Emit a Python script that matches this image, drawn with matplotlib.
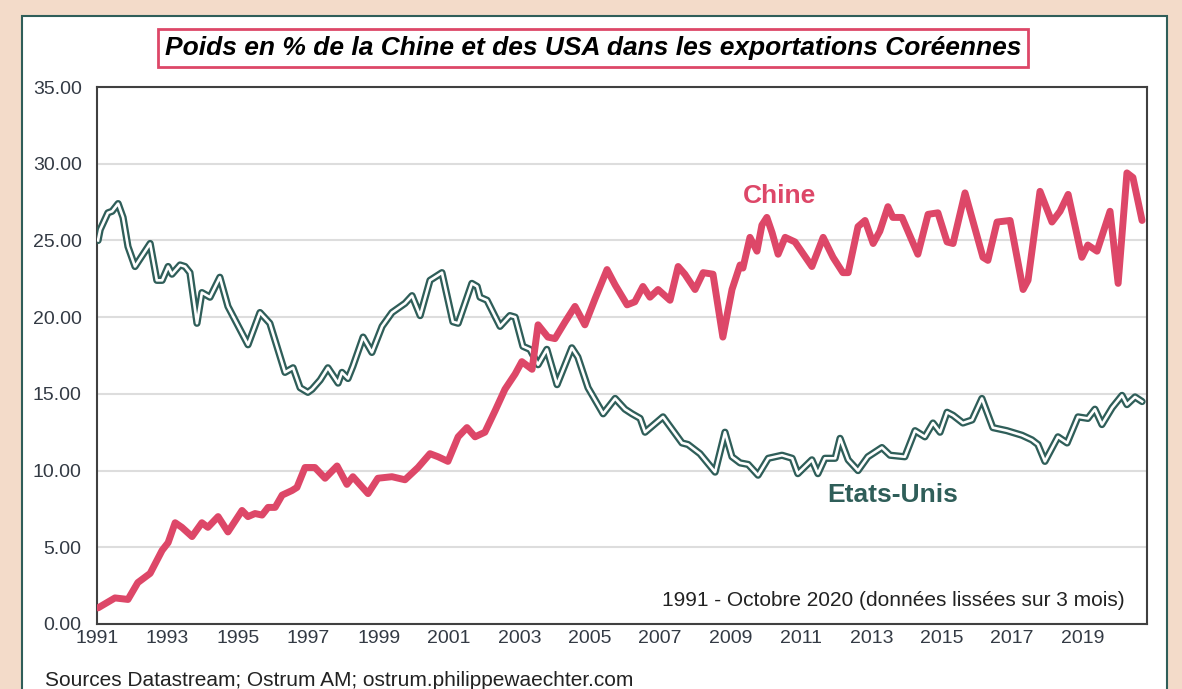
import matplotlib.pyplot as plt
from matplotlib.patches import Rectangle

plt.rcParams['font.family'] = ['Liberation Sans', 'DejaVu Sans']

# Chine share of Korean exports (%)
chine_years = [1991.03, 1991.51, 1991.88, 1992.16, 1992.51, 1992.85, 1993.02, 1993.22,
               1993.41, 1993.70, 1993.98, 1994.15, 1994.44, 1994.72, 1995.12, 1995.29,
               1995.49, 1995.69, 1995.86, 1996.06, 1996.26, 1996.54, 1996.68, 1996.91,
               1997.19, 1997.48, 1997.82, 1998.10, 1998.27, 1998.70, 1998.98, 1999.38,
               1999.75, 2000.12, 2000.46, 2000.69, 2000.97, 2001.26, 2001.51, 2001.74,
               2002.02, 2002.31, 2002.59, 2002.88, 2003.07, 2003.36, 2003.53, 2003.81,
               2004.01, 2004.30, 2004.58, 2004.86, 2005.15, 2005.49, 2005.72, 2006.06,
               2006.28, 2006.51, 2006.71, 2006.94, 2007.28, 2007.51, 2007.70, 2007.99,
               2008.22, 2008.50, 2008.78, 2009.04, 2009.27, 2009.35, 2009.55, 2009.75,
               2009.89, 2010.03, 2010.18, 2010.35, 2010.55, 2010.83, 2011.31, 2011.63,
               2011.91, 2012.19, 2012.34, 2012.62, 2012.82, 2013.05, 2013.24, 2013.47,
               2013.61, 2013.87, 2014.32, 2014.61, 2014.89, 2015.15, 2015.32, 2015.66,
               2016.17, 2016.31, 2016.57, 2016.94, 2017.31, 2017.45, 2017.79, 2018.13,
               2018.36, 2018.59, 2018.98, 2019.15, 2019.41, 2019.78, 2020.01, 2020.26,
               2020.43, 2020.69]
chine_vals = [1.05, 1.7, 1.6, 2.7, 3.3, 4.8, 5.3, 6.6,
              6.3, 5.7, 6.6, 6.3, 7.0, 6.0, 7.4, 7.0,
              7.2, 7.1, 7.6, 7.6, 8.4, 8.7, 8.9, 10.2,
              10.2, 9.5, 10.3, 9.1, 9.6, 8.5, 9.5, 9.6,
              9.4, 10.2, 11.1, 10.9, 10.6, 12.2, 12.8, 12.2,
              12.5, 13.9, 15.3, 16.3, 17.1, 16.6, 19.5, 18.7,
              18.6, 19.7, 20.7, 19.5, 21.2, 23.1, 22.1, 20.8,
              21.0, 22.0, 21.3, 21.8, 21.1, 23.3, 22.8, 21.8,
              22.9, 22.8, 18.7, 21.8, 23.4, 23.2, 25.2, 24.3,
              26.0, 26.5, 25.5, 24.1, 25.2, 24.9, 23.3, 25.2,
              23.9, 22.9, 22.9, 25.9, 26.3, 24.8, 25.6, 27.2,
              26.5, 26.5, 24.1, 26.7, 26.8, 24.9, 24.8, 28.1,
              23.9, 23.7, 26.2, 26.3, 21.8, 22.4, 28.2, 26.2,
              26.9, 28.0, 23.9, 24.7, 24.3, 26.9, 22.2, 29.4,
              29.1, 26.3]

# Etats-Unis share of Korean exports (%)
usa_years = [1991.03, 1991.09, 1991.31, 1991.43, 1991.60, 1991.74, 1991.88, 1992.08,
             1992.51, 1992.70, 1992.85, 1993.02, 1993.13, 1993.36, 1993.50, 1993.64,
             1993.84, 1993.98, 1994.21, 1994.49, 1994.72, 1995.29, 1995.63, 1995.91,
             1996.34, 1996.57, 1996.77, 1996.99, 1997.11, 1997.34, 1997.56, 1997.85,
             1997.96, 1998.13, 1998.27, 1998.56, 1998.81, 1999.10, 1999.38, 1999.75,
             1999.95, 2000.18, 2000.46, 2000.80, 2001.11, 2001.26, 2001.65, 2001.80,
             2001.88, 2002.08, 2002.45, 2002.73, 2002.88, 2003.10, 2003.30, 2003.53,
             2003.78, 2004.07, 2004.49, 2004.66, 2004.95, 2005.38, 2005.72, 2006.00,
             2006.20, 2006.43, 2006.57, 2007.08, 2007.62, 2007.79, 2008.13, 2008.56,
             2008.84, 2009.04, 2009.27, 2009.50, 2009.78, 2010.07, 2010.46, 2010.75,
             2010.91, 2011.31, 2011.48, 2011.68, 2011.97, 2012.11, 2012.34, 2012.62,
             2012.90, 2013.30, 2013.53, 2013.95, 2014.24, 2014.52, 2014.75, 2014.95,
             2015.15, 2015.32, 2015.60, 2015.86, 2016.14, 2016.45, 2016.85, 2017.28,
             2017.56, 2017.73, 2017.93, 2018.30, 2018.56, 2018.87, 2019.15, 2019.35,
             2019.55, 2019.84, 2020.12, 2020.26, 2020.49, 2020.69]
usa_vals = [25.0, 25.7, 26.8, 26.9, 27.4, 26.5, 24.6, 23.3,
            24.8, 22.4, 22.4, 23.3, 22.8, 23.4, 23.3, 22.9,
            19.6, 21.6, 21.3, 22.6, 20.7, 18.2, 20.3, 19.6,
            16.4, 16.7, 15.4, 15.1, 15.3, 15.9, 16.7, 15.7,
            16.4, 16.0, 16.8, 18.7, 17.7, 19.4, 20.3, 20.9,
            21.4, 20.1, 22.4, 22.9, 19.7, 19.6, 22.2, 22.0,
            21.3, 21.1, 19.4, 20.1, 20.0, 18.1, 17.9, 16.9,
            17.9, 15.6, 18.0, 17.4, 15.4, 13.7, 14.7, 14.0,
            13.7, 13.4, 12.5, 13.5, 11.8, 11.7, 11.1, 9.9,
            12.5, 10.9, 10.5, 10.4, 9.7, 10.8, 11.0, 10.8,
            9.8, 10.7, 9.8, 10.8, 10.8, 12.1, 10.7, 10.0,
            10.9, 11.5, 11.0, 10.9, 12.6, 12.2, 13.1, 12.5,
            13.8, 13.6, 13.1, 13.3, 14.7, 12.8, 12.6, 12.3,
            12.0, 11.7, 10.6, 12.2, 11.8, 13.5, 13.4, 14.0,
            13.0, 14.1, 14.9, 14.3, 14.8, 14.5]

year_ticks = list(range(1991, 2021, 2))
y_ticks = [0, 5, 10, 15, 20, 25, 30, 35]

red = '#dd4768'
teal = '#2f5e59'

fig = plt.figure(figsize=(11.82, 6.89), dpi=100, facecolor='#f3dbc9')
panel = Rectangle((22 / 1182, -0.05), 1145 / 1182, 1.05 - 16 / 689,
                  transform=fig.transFigure, facecolor='white',
                  edgecolor=teal, linewidth=1.5, zorder=-10)
fig.patches.append(panel)

ax = fig.add_axes([97 / 1182, 1 - 624 / 689, 1050 / 1182, 537 / 689])
ax.set_zorder(2)
ax.set_facecolor('white')

# double line for the US: dark outline with a white core
ax.plot(usa_years, usa_vals, color=teal, lw=5.2, solid_joinstyle='round',
        solid_capstyle='round', zorder=3)
ax.plot(usa_years, usa_vals, color='white', lw=1.9, solid_joinstyle='round', zorder=4)
ax.plot(chine_years, chine_vals, color=red, lw=5, solid_joinstyle='round',
        solid_capstyle='round', zorder=5)

ax.set_xlim(1991, 2020.83)
ax.set_ylim(0, 35)
ax.set_yticks(y_ticks)
ax.set_yticklabels([f'{v:.2f}' for v in y_ticks])
ax.set_xticks(year_ticks)
ax.set_xticklabels([str(y) for y in year_ticks])
ax.tick_params(axis='y', length=0, pad=11, labelsize=14, labelcolor='#333a44')
ax.tick_params(axis='x', length=0, pad=4, labelsize=14, labelcolor='#333a44')
ax.grid(axis='y', color='#dddddd', lw=1.5)
ax.set_axisbelow(True)
for s in ax.spines.values():
    s.set_color('#404040')
    s.set_linewidth(1.5)

ax.text(2010.4, 27.9, 'Chine', color=red, fontsize=19, fontweight='bold',
        ha='center', va='center')
ax.text(2013.6, 8.4, 'Etats-Unis', color=teal, fontsize=19, fontweight='bold',
        ha='center', va='center')
ax.text(2020.2, 1.5, '1991 - Octobre 2020 (données lissées sur 3 mois)',
        fontsize=15, color='#222222', ha='right', va='center')

fig.text(593 / 1182, 1 - 48 / 689,
         'Poids en % de la Chine et des USA dans les exportations Coréennes',
         fontsize=19, fontweight='bold', fontstyle='italic', ha='center', va='center',
         bbox=dict(boxstyle='square,pad=0.25', facecolor='white', edgecolor=red, lw=2))
fig.text(45 / 1182, 1 - 681 / 689,
         'Sources Datastream; Ostrum AM; ostrum.philippewaechter.com',
         fontsize=15, color='#222222', ha='left', va='center')

fig.savefig('out.png', dpi=100, facecolor=fig.get_facecolor())
